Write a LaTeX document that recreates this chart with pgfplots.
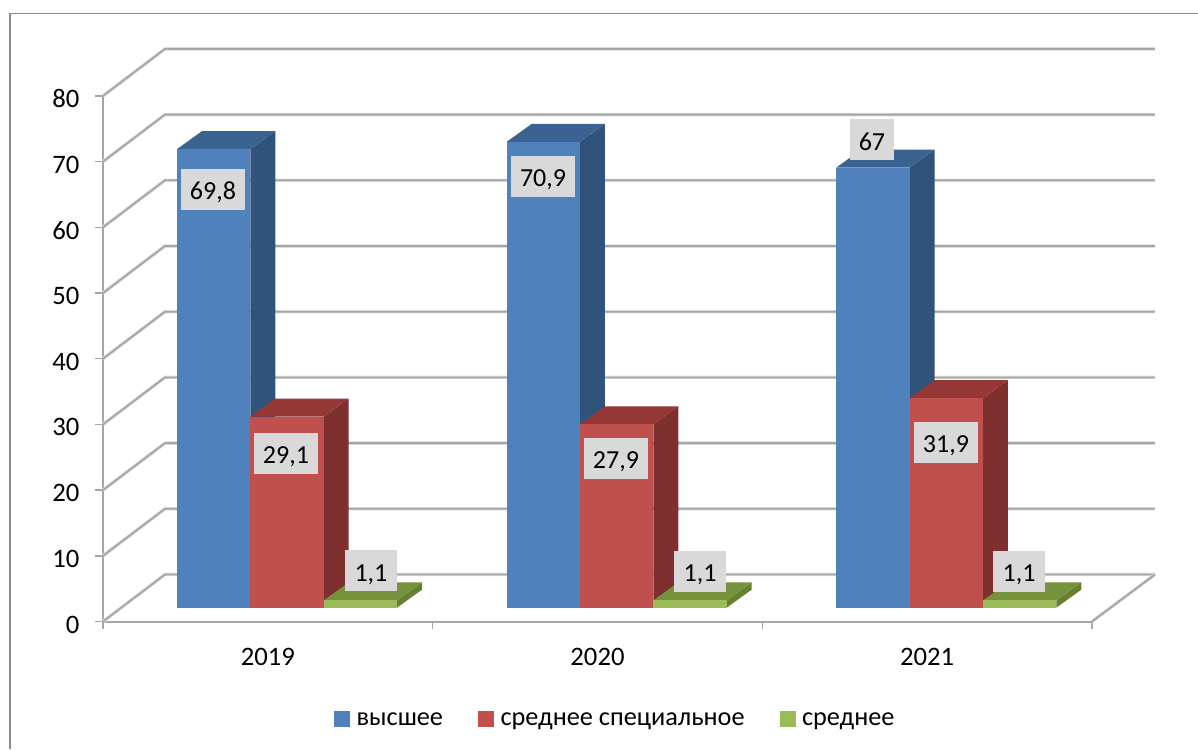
\documentclass[border=0pt]{standalone}
\usepackage{fontspec}
\setmainfont{Carlito}
\usepackage{pgfplots}
\pgfplotsset{compat=1.18}
\newlength\px
\setlength\px{0.75pt}
\definecolor{bluef}{HTML}{4F81BD}
\definecolor{bluet}{HTML}{3B6391}
\definecolor{blues}{HTML}{30537B}
\definecolor{redf}{HTML}{C0504D}
\definecolor{redt}{HTML}{953735}
\definecolor{reds}{HTML}{7D302E}
\definecolor{greenf}{HTML}{9BBB59}
\definecolor{greent}{HTML}{76923C}
\definecolor{greens}{HTML}{668032}
\definecolor{gridd}{HTML}{A6A6A6}
\definecolor{gridl}{HTML}{DDDDDD}
\definecolor{lblbg}{HTML}{D9D9D9}
% one 3D bar: #1 category, #2 slot 0..2, #3 value, #4 front, #5 top, #6 side
\newcommand\tdbar[6]{%
  \pgfmathsetmacro\xa{#1+0.2245+#2*0.2224}%
  \pgfmathsetmacro\xb{\xa+0.2224}%
  \pgfmathsetmacro\xc{\xa+0.0758}%
  \pgfmathsetmacro\xd{\xb+0.0758}%
  \pgfmathsetmacro\yb{2.1}%
  \pgfmathsetmacro\yt{2.1+#3}%
  \pgfmathsetmacro\ybb{\yb+2.74}%
  \pgfmathsetmacro\ytb{\yt+2.74}%
  \addplot[fill=#6,draw=none,forget plot] coordinates {(\xb,\yb) (\xd,\ybb) (\xd,\ytb) (\xb,\yt)} -- cycle;
  \addplot[fill=#5,draw=none,forget plot] coordinates {(\xa,\yt) (\xb,\yt) (\xd,\ytb) (\xc,\ytb)} -- cycle;
  \addplot[fill=#4,draw=none,forget plot] coordinates {(\xa,\yb) (\xb,\yb) (\xb,\yt) (\xa,\yt)} -- cycle;
}
\newcommand\gridline[1]{%
  \pgfmathsetmacro\yg{#1+7.154}%
  \addplot[gridl,line width=3.5\px,forget plot,line join=round] coordinates {(0,#1) (0.188,\yg) (3.191,\yg)};
  \addplot[gridd,line width=1.8\px,forget plot,line join=round] coordinates {(0,#1) (0.188,\yg) (3.191,\yg)};
}
\begin{document}
\begin{tikzpicture}
\path[use as bounding box] (0,0) rectangle (1198\px,749\px);
\draw[color=black!45,line width=1.5\px] (10\px,0) -- (10\px,735.5\px) -- (1198\px,735.5\px);
\begin{axis}[
  at={(103\px,127.5\px)}, anchor=south west,
  scale only axis, width=989\px, height=525.6\px,
  xmin=0, xmax=3, ymin=0, ymax=80,
  clip=false,
  axis x line*=bottom, axis y line*=left,
  axis line style={gridd,line width=2\px},
  xtick={0,1,2,3}, x tick label as interval,
  xticklabels={2019,2020,2021},
  ytick={0,10,...,80},
  tick align=outside,
  major tick length=8\px,
  tick style={gridd,line width=1.5\px},
  tick label style={font=\fontsize{20}{21}\selectfont,/pgf/number format/assume math mode=true},
  yticklabel style={xshift=-11\px,yshift=-3\px},
  xticklabel style={yshift=-14\px},
  legend columns=3,
  legend cell align=left,
  legend style={
    at={(0.2336,-0.1845)}, anchor=west, draw=none, fill=none,
    inner sep=0pt, outer sep=0pt,
    font=\fontsize{19.7}{21}\selectfont,
    /tikz/every even column/.append style={column sep=35\px},
    nodes={inner xsep=0pt,inner ysep=1pt},
  },
  legend image code/.code={\fill[#1] (0,-7.5\px) rectangle (15\px,7.5\px);},
]
\addlegendimage{bluef}\addlegendentry{\hspace{7\px}\raisebox{-2.5\px}{высшее}}
\addlegendimage{redf}\addlegendentry{\hspace{7\px}\raisebox{-2.5\px}{среднее специальное}}
\addlegendimage{greenf}\addlegendentry{\hspace{7\px}\raisebox{-2.5\px}{среднее}}

\pgfplotsinvokeforeach{0,10,20,30,40,50,60,70,80}{\gridline{#1}}
\addplot[gridl,line width=3.5\px,forget plot] coordinates {(3,0) (3.191,7.154)};
\addplot[gridd,line width=1.8\px,forget plot] coordinates {(3,0) (3.191,7.154)};

\tdbar{0}{0}{69.8}{bluef}{bluet}{blues}
\tdbar{0}{1}{29.1}{redf}{redt}{reds}
\tdbar{0}{2}{1.1}{greenf}{greent}{greens}
\tdbar{1}{0}{70.9}{bluef}{bluet}{blues}
\tdbar{1}{1}{27.9}{redf}{redt}{reds}
\tdbar{1}{2}{1.1}{greenf}{greent}{greens}
\tdbar{2}{0}{67}{bluef}{bluet}{blues}
\tdbar{2}{1}{31.9}{redf}{redt}{reds}
\tdbar{2}{2}{1.1}{greenf}{greent}{greens}

\addplot[draw=none,mark=none,forget plot,
  nodes near coords,
  point meta=explicit symbolic,
  every node near coord/.style={anchor=center,fill=lblbg,inner xsep=9.3\px,inner ysep=0pt,
    minimum height=41\px,text height=20.5\px,text depth=0pt,text=black,
    font=\fontsize{19.5}{20}\selectfont},
] table[meta=label] {
x y label
0.3337 65.75 69,8
0.5551 25.57 29,1
0.8129 7.69 1,1
1.3347 67.76 70,9
1.5561 24.81 27,9
1.8109 7.61 1,1
2.3326 73.3 67
2.5571 27.25 31,9
2.7786 7.61 1,1
};
\end{axis}
\end{tikzpicture}
\end{document}
